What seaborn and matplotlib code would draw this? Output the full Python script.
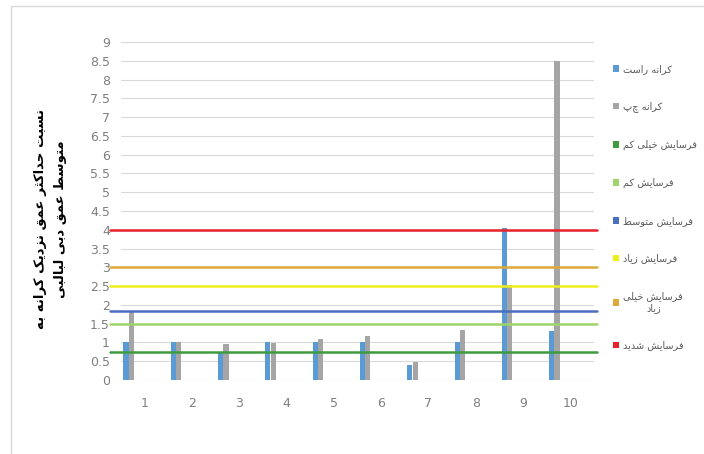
import matplotlib
matplotlib.use("Agg")
import matplotlib.pyplot as plt
from matplotlib.patches import Patch, Rectangle
import seaborn as sns
import pandas as pd

# ---------------- data ----------------
categories = ['1', '2', '3', '4', '5', '6', '7', '8', '9', '10']
right_bank = [1.0, 1.0, 0.75, 1.0, 1.0, 1.0, 0.4, 1.0, 4.05, 1.3]
left_bank = [1.85, 1.0, 0.95, 0.98, 1.08, 1.17, 0.47, 1.32, 2.53, 8.5]
bar_series = ['کرانه راست', 'کرانه چپ']
threshold_series = ['فرسایش خیلی کم', 'فرسایش کم', 'فرسایش متوسط',
                    'فرسایش زیاد', 'فرسایش خیلی\nزیاد', 'فرسایش شدید']
threshold_values = [0.75, 1.5, 1.85, 2.5, 3.0, 4.0]
y_ticks = [0, 0.5, 1, 1.5, 2, 2.5, 3, 3.5, 4, 4.5, 5, 5.5, 6, 6.5, 7, 7.5, 8, 8.5, 9]
y_label = 'نسبت حداکثر عمق نزدیک کرانه به\nمتوسط عمق دبی لبالبی'

bar_colors = ['#5B9BD5', '#A5A5A5']
threshold_colors = ['#3E9B3E', '#9ED46A', '#4A6FBF', '#EEEE1A', '#DDA93A', '#E8202A']

# ---------------- minimal Arabic/Persian shaping ----------------
FORMS = {
    '\u0627': ('\uFE8D', '\uFE8E', None, None),
    '\u0628': ('\uFE8F', '\uFE90', '\uFE91', '\uFE92'),
    '\u062A': ('\uFE95', '\uFE96', '\uFE97', '\uFE98'),
    '\u062B': ('\uFE99', '\uFE9A', '\uFE9B', '\uFE9C'),
    '\u062D': ('\uFEA1', '\uFEA2', '\uFEA3', '\uFEA4'),
    '\u062E': ('\uFEA5', '\uFEA6', '\uFEA7', '\uFEA8'),
    '\u062F': ('\uFEA9', '\uFEAA', None, None),
    '\u0631': ('\uFEAD', '\uFEAE', None, None),
    '\u0632': ('\uFEAF', '\uFEB0', None, None),
    '\u0633': ('\uFEB1', '\uFEB2', '\uFEB3', '\uFEB4'),
    '\u0634': ('\uFEB5', '\uFEB6', '\uFEB7', '\uFEB8'),
    '\u0637': ('\uFEC1', '\uFEC2', '\uFEC3', '\uFEC4'),
    '\u0639': ('\uFEC9', '\uFECA', '\uFECB', '\uFECC'),
    '\u0641': ('\uFED1', '\uFED2', '\uFED3', '\uFED4'),
    '\u0642': ('\uFED5', '\uFED6', '\uFED7', '\uFED8'),
    '\u0644': ('\uFEDD', '\uFEDE', '\uFEDF', '\uFEE0'),
    '\u0645': ('\uFEE1', '\uFEE2', '\uFEE3', '\uFEE4'),
    '\u0646': ('\uFEE5', '\uFEE6', '\uFEE7', '\uFEE8'),
    '\u0647': ('\uFEE9', '\uFEEA', '\uFEEB', '\uFEEC'),
    '\u0648': ('\uFEED', '\uFEEE', None, None),
    '\u06A9': ('\uFB8E', '\uFB8F', '\uFB90', '\uFB91'),
    '\u0686': ('\uFB7A', '\uFB7B', '\uFB7C', '\uFB7D'),
    '\u06CC': ('\uFBFC', '\uFBFD', '\uFBFE', '\uFBFF'),
}


def shape_line(text):
    out = []
    n = len(text)
    for i, c in enumerate(text):
        if c not in FORMS:
            out.append(c)
            continue
        iso, fin, ini, med = FORMS[c]
        prev = text[i - 1] if i > 0 else None
        nxt = text[i + 1] if i < n - 1 else None
        jp = prev in FORMS and FORMS[prev][2] is not None
        jn = ini is not None and nxt in FORMS
        if jp and jn:
            out.append(med)
        elif jp:
            out.append(fin)
        elif jn:
            out.append(ini)
        else:
            out.append(iso)
    return ''.join(reversed(out))


def shape(text):
    return '\n'.join(shape_line(t) for t in text.split('\n'))


# ---------------- figure ----------------
sns.set_theme(style='white')
plt.rcParams['font.family'] = ['DejaVu Sans']

W, H = 704, 454
fig = plt.figure(figsize=(W / 100, H / 100), dpi=100)
ax = fig.add_axes([121 / W, 1 - 380 / H, 473 / W, 338 / H])

# outer chart frame
fig.patches.append(Rectangle((11 / W, -0.1), 1.2, 1 - 6 / H + 0.1,
                             transform=fig.transFigure, fill=False,
                             edgecolor='#D9D9D9', linewidth=1.0))

all_series = bar_series + threshold_series
palette = dict(zip(all_series, bar_colors + threshold_colors))

df = pd.DataFrame({
    'category': categories * 2,
    'value': right_bank + left_bank,
    'series': [bar_series[0]] * len(categories) + [bar_series[1]] * len(categories),
})

sns.barplot(data=df, x='category', y='value', hue='series', order=categories,
            hue_order=all_series, palette=palette, width=0.9, gap=0.04,
            saturation=1, legend=False, ax=ax, zorder=3, linewidth=0)

for val, col in zip(threshold_values, threshold_colors):
    ax.axhline(val, xmin=-0.023, xmax=1.006, color=col, lw=1.8,
               clip_on=False, zorder=4)

ax.set_ylim(0, 9)
ax.set_yticks(y_ticks)
ax.set_yticklabels([('%g' % v) for v in y_ticks])
ax.grid(axis='y', color='#D9D9D9', lw=0.8, zorder=0)
ax.grid(axis='x', visible=False)
for s in ax.spines.values():
    s.set_visible(False)
ax.tick_params(axis='both', length=0, labelsize=9, labelcolor='#7F7F7F')
ax.tick_params(axis='x', pad=12)
ax.tick_params(axis='y', pad=8)
ax.set_xlabel('')
ax.set_ylabel(shape(y_label), fontsize=9.5, fontweight='bold', color='black',
              linespacing=1.7, multialignment='center')
ax.yaxis.label.set_va('center')
ax.yaxis.set_label_coords(-0.148, 0.475)

handles = [Patch(facecolor=palette[s], edgecolor='none') for s in all_series]
leg = fig.legend(handles, [shape(s) for s in all_series], loc='upper left',
                 bbox_to_anchor=(604 / W, 1 - 55 / H), frameon=False,
                 fontsize=7, handlelength=0.65, handleheight=0.65,
                 handletextpad=0.45, labelspacing=2.85)
for t in leg.get_texts():
    t.set_color('#595959')
    if '\n' in t.get_text():
        t.set_multialignment('center')

fig.savefig('out.png', dpi=100)
